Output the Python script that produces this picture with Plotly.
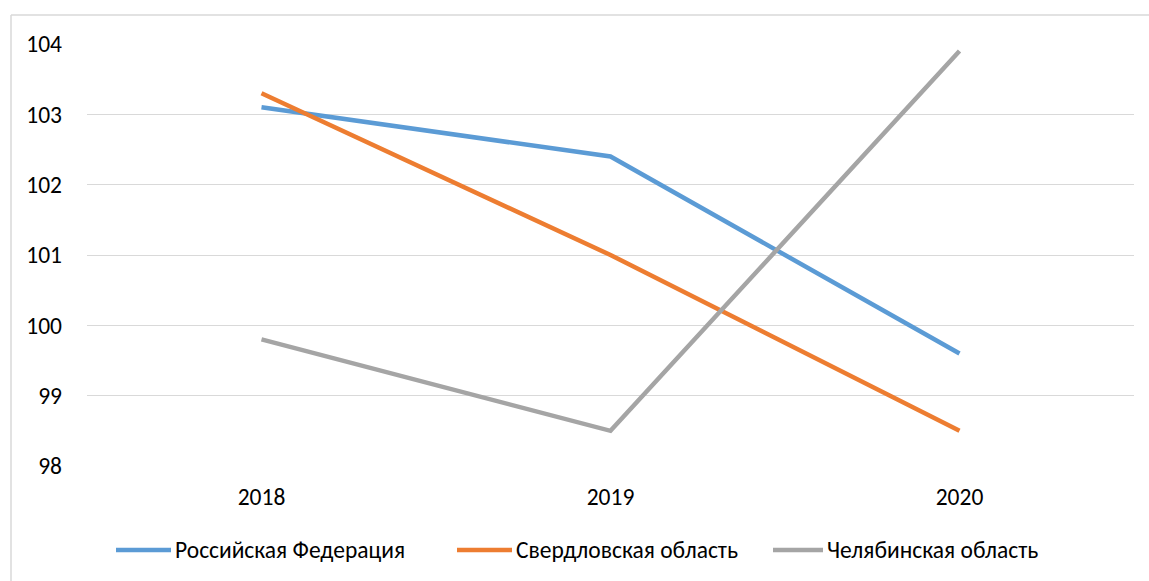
import plotly.graph_objects as go

# Index values by year
years = ["2018", "2019", "2020"]
russia = [103.1, 102.4, 99.6]
sverdlovsk = [103.3, 101.0, 98.5]
chelyabinsk = [99.8, 98.5, 103.9]

series_names = ["Российская Федерация", "Свердловская область", "Челябинская область"]
series_colors = ["#5B9BD5", "#ED7D31", "#A5A5A5"]
y_ticks = [98, 99, 100, 101, 102, 103, 104]

W, H = 1149, 581
L, R, T, B = 87, 15, 44, 115
plot_w = W - L - R
plot_h = H - T - B


def px_x(px):
    return (px - L) / plot_w


def px_y(py):
    return (H - B - py) / plot_h


fig = go.Figure()
for name, vals, color in zip(series_names, [russia, sverdlovsk, chelyabinsk], series_colors):
    fig.add_trace(go.Scatter(
        x=years, y=vals, name=name, mode="lines",
        line=dict(color=color, width=4.5),
        showlegend=False,
    ))

# Light outer chart frame (left and top edges visible)
frame = dict(color="#D9D9D9", width=1.5)
fig.add_shape(type="line", xref="paper", yref="paper",
              x0=px_x(11), x1=px_x(11), y0=px_y(H + 5), y1=px_y(15), line=frame)
fig.add_shape(type="line", xref="paper", yref="paper",
              x0=px_x(11), x1=px_x(W + 5), y0=px_y(15), y1=px_y(15), line=frame)

font = "Carlito, Calibri, Lato, sans-serif"
fsize = 23.5

# Legend row below the plot: line swatch followed by series name
legend_y = 550
legend_items = [(116, 171), (457, 512), (773, 823)]
for (sx0, sx1), name, color in zip(legend_items, series_names, series_colors):
    fig.add_shape(type="line", xref="paper", yref="paper",
                  x0=px_x(sx0), x1=px_x(sx1), y0=px_y(legend_y), y1=px_y(legend_y),
                  line=dict(color=color, width=4.5))
    fig.add_annotation(xref="paper", yref="paper", x=px_x(sx1 + 2), y=px_y(legend_y),
                       xanchor="left", yanchor="middle", text=name, showarrow=False,
                       font=dict(family=font, size=fsize, color="#000000"))

fig.update_layout(
    width=W, height=H,
    margin=dict(l=L, r=R, t=T, b=B),
    paper_bgcolor="white", plot_bgcolor="white",
    font=dict(family=font, size=fsize, color="#000000"),
    xaxis=dict(
        type="category", range=[-0.5, 2.5], showgrid=False, showline=False, zeroline=False,
        ticks="", tickfont=dict(size=fsize), ticklabelstandoff=14,
    ),
    yaxis=dict(
        range=[98, 104], tickvals=y_ticks, ticktext=[str(v) for v in y_ticks],
        showgrid=True, gridcolor="#D9D9D9", gridwidth=1.2,
        zeroline=False, showline=False, ticks="",
        tickfont=dict(size=fsize), ticklabelstandoff=24,
    ),
    showlegend=False,
)

fig.write_html("out.html")
